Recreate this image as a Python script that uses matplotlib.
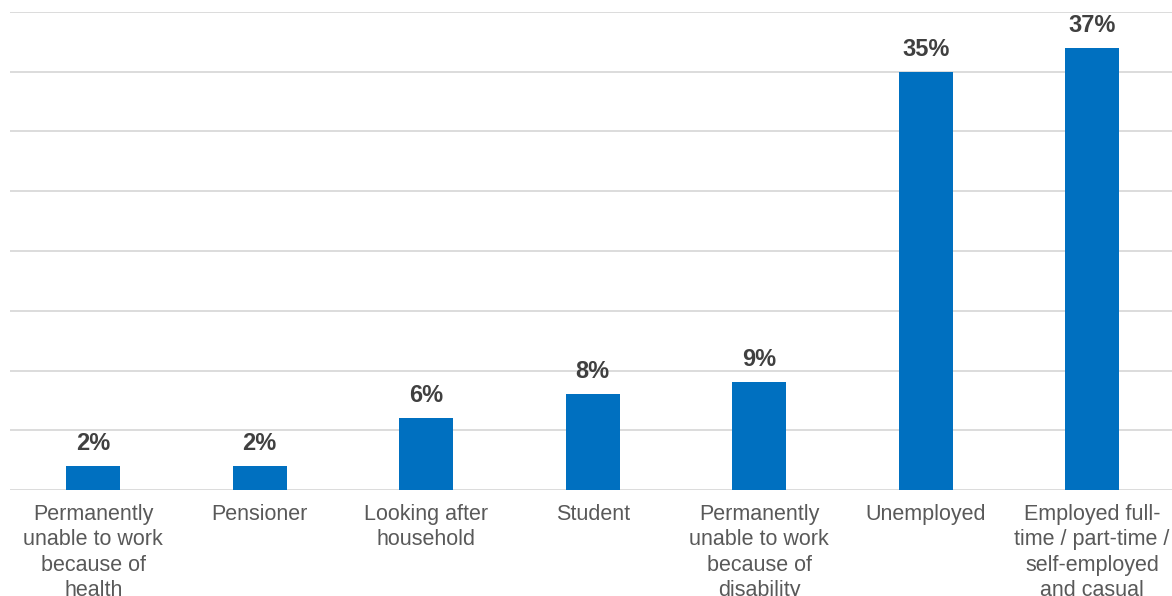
import matplotlib.pyplot as plt

categories = [
    'Permanently\nunable to work\nbecause of\nhealth',
    'Pensioner',
    'Looking after\nhousehold',
    'Student',
    'Permanently\nunable to work\nbecause of\ndisability',
    'Unemployed',
    'Employed full-\ntime / part-time /\nself-employed\nand casual',
]
shares = [2, 2, 6, 8, 9, 35, 37]

plt.rcParams['font.family'] = ['Liberation Sans', 'DejaVu Sans']

fig = plt.figure(figsize=(11.72, 5.96), dpi=100)
ax = fig.add_axes([10 / 1172, 106 / 596, 1162 / 1172, 478 / 596])

x = range(len(categories))
bars = ax.bar(x, shares, width=0.325, color='#0070C0', zorder=3)

for b, v in zip(bars, shares):
    ax.annotate(f'{v}%', (b.get_x() + b.get_width() / 2, v),
                xytext=(0, 8), textcoords='offset points',
                ha='center', va='bottom', fontsize=17, fontweight='bold',
                color='#404040')

ax.set_xlim(-0.5, 6.48)
ax.set_ylim(0, 40)
ax.set_yticks(range(0, 41, 5))
ax.yaxis.grid(True, color='#d9d9d9', linewidth=1.3, zorder=0)
ax.tick_params(axis='y', left=False, labelleft=False)
ax.set_xticks(list(x))
ax.set_xticklabels(categories, fontsize=15.5, color='#595959', linespacing=1.27)
ax.tick_params(axis='x', length=0, pad=10)
for s in ax.spines.values():
    s.set_visible(False)

fig.savefig('out.png', dpi=100)
